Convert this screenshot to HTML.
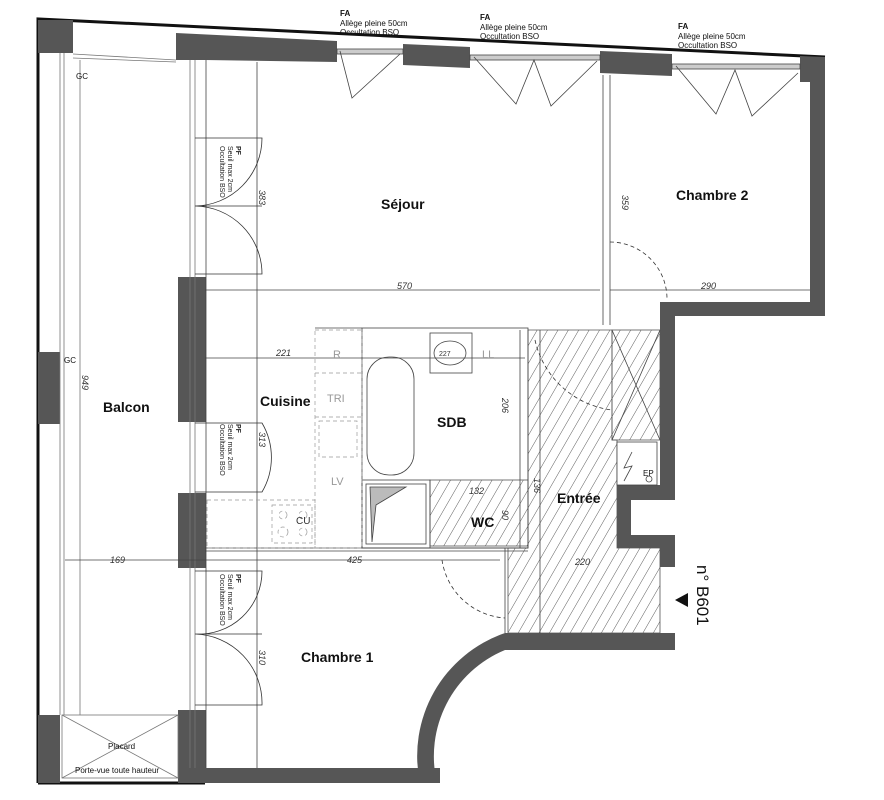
<!DOCTYPE html>
<html><head><meta charset="utf-8"><style>
html,body{margin:0;padding:0;background:#fff;width:884px;height:800px;overflow:hidden}
svg text{font-family:"Liberation Sans",sans-serif}
</style></head><body>
<svg width="884" height="800" viewBox="0 0 884 800" xmlns="http://www.w3.org/2000/svg">
<defs>
<pattern id="h" width="9" height="9" patternUnits="userSpaceOnUse" patternTransform="rotate(30)">
<line x1="0" y1="0" x2="0" y2="9" stroke="#333" stroke-width="0.8"/></pattern>
</defs>
<rect width="884" height="800" fill="#fff"/>
<g fill="url(#h)" stroke="#555" stroke-width="0.8">
<polygon points="528,330 612,330 612,440 617,440 617,548 660,548 660,633 508,633 508,548 528,548"/>
<rect x="430" y="480" width="98" height="66"/>
<rect x="612" y="330" width="48" height="110"/>
</g>
<polyline points="38,783 38,19 825,57" fill="none" stroke="#111" stroke-width="3"/>
<line x1="38" y1="783" x2="205" y2="783" stroke="#111" stroke-width="3"/>
<g fill="#565656">
<rect x="38" y="20" width="35" height="33"/>
<polygon points="176,33 337,41 337,62 205,60 176,60"/>
<polygon points="403,44 470,47 470,68 403,65"/>
<polygon points="600,51 672,54 672,76 600,73"/>
<polygon points="800,56 825,57 825,316 810,316 810,82 800,82"/>
<rect x="660" y="302" width="165" height="14"/>
<rect x="660" y="302" width="15" height="198"/>
<rect x="617" y="485" width="58" height="15"/>
<rect x="617" y="485" width="14" height="63"/>
<rect x="617" y="535" width="58" height="13"/>
<rect x="660" y="535" width="15" height="32"/>
<rect x="505" y="633" width="170" height="17"/>
<rect x="178" y="277" width="28" height="145"/>
<rect x="178" y="493" width="28" height="75"/>
<rect x="178" y="710" width="28" height="73"/>
<rect x="38" y="352" width="22" height="72"/>
<rect x="38" y="715" width="22" height="68"/>
<rect x="205" y="768" width="235" height="15"/>
<path d="M505,633 A130,130 0 0 0 420,783 L437,783 A115,115 0 0 1 505,650 Z"/>
</g>
<g stroke="#777" stroke-width="0.8" fill="none">
<line x1="60" y1="53" x2="60" y2="715"/><line x1="64" y1="53" x2="64" y2="715"/>
<line x1="80" y1="60" x2="80" y2="715"/>
<line x1="73" y1="54" x2="176" y2="60"/><line x1="73" y1="58" x2="176" y2="62"/>
<rect x="62" y="715" width="116" height="63"/>
<line x1="62" y1="715" x2="178" y2="778"/><line x1="178" y1="715" x2="62" y2="778"/>
<line x1="190" y1="60" x2="190" y2="768"/><line x1="195" y1="60" x2="195" y2="768"/>
</g>
<g stroke="#444" stroke-width="0.8" fill="none">
<rect x="337" y="49" width="66" height="5" fill="#ccc"/>
<path d="M340,51 L352,98 L400,54"/>
<rect x="470" y="55" width="130" height="5" fill="#ccc"/>
<path d="M474,57 L516,104 L534,60 L551,106 L597,61"/>
<rect x="672" y="64" width="128" height="5" fill="#ccc"/>
<path d="M676,66 L716,114 L735,70 L752,116 L798,73"/>
</g>
<g stroke="#444" stroke-width="0.8" fill="none">
<line x1="206" y1="60" x2="206" y2="768"/>
<line x1="257" y1="62" x2="257" y2="768"/>
<line x1="205" y1="290" x2="600" y2="290"/>
<line x1="610" y1="290" x2="810" y2="290"/>
<line x1="603" y1="75" x2="603" y2="325"/><line x1="610" y1="75" x2="610" y2="325"/>
<line x1="205" y1="358" x2="525" y2="358"/>
<line x1="65" y1="560" x2="500" y2="560"/>
<line x1="205" y1="548" x2="528" y2="548"/>
<line x1="205" y1="551" x2="528" y2="551"/>
<rect x="362" y="328" width="166" height="220"/>
<line x1="315" y1="328" x2="362" y2="328"/>
<rect x="367" y="357" width="47" height="118" rx="22"/>
<rect x="430" y="333" width="42" height="40"/>
<ellipse cx="450" cy="353" rx="16" ry="12"/>
<rect x="362" y="480" width="68" height="68"/><rect x="366" y="484" width="60" height="60"/>
<polygon points="370,487 406,487 376,505 372,542" fill="#bbb"/>
<line x1="520" y1="330" x2="520" y2="548"/>
<line x1="505" y1="548" x2="505" y2="633"/>
<line x1="540" y1="330" x2="540" y2="633"/>
<line x1="612" y1="330" x2="660" y2="440"/><line x1="660" y1="330" x2="612" y2="440"/>
<rect x="617" y="442" width="40" height="43" fill="#fff"/>
<path d="M632,452 L624,468 L632,466 L624,481"/>
<circle cx="649" cy="479" r="3"/>
</g>
<g stroke="#999" stroke-width="0.7" fill="none" stroke-dasharray="4,3">
<rect x="315" y="330" width="47" height="218"/>
<line x1="315" y1="373" x2="362" y2="373"/>
<line x1="315" y1="417" x2="362" y2="417"/>
<rect x="319" y="421" width="38" height="36"/>
<rect x="207" y="500" width="108" height="48"/>
<rect x="272" y="505" width="40" height="38"/>
<circle cx="283" cy="515" r="4"/><circle cx="303" cy="515" r="4"/>
<circle cx="283" cy="532" r="5"/><circle cx="303" cy="532" r="4"/>
</g>
<g stroke="#333" stroke-width="0.8" fill="none">
<path d="M195,206 L262,206 M195,138 L262,138 L262,138 A68,68 0 0 1 195,206 A68,68 0 0 1 262,274 L195,274"/>
<path d="M195,423 L262,423 A68,68 0 0 1 262,492 L195,492"/>
<path d="M195,634 L262,634 M195,571 L262,571 A63,63 0 0 1 195,634 A69,69 0 0 1 262,705 L195,705"/>
<g stroke-dasharray="4,3">
<path d="M610,242 A57,57 0 0 1 667,298"/>
<path d="M442,560 A68,68 0 0 0 505,618"/>
<path d="M535,340 A90,90 0 0 0 612,410"/>
</g>
</g>
<g fill="#111" font-weight="bold" font-size="14">
<text x="381" y="209">Séjour</text>
<text x="676" y="200">Chambre 2</text>
<text x="103" y="412">Balcon</text>
<text x="260" y="406">Cuisine</text>
<text x="437" y="427">SDB</text>
<text x="471" y="527">WC</text>
<text x="557" y="503">Entrée</text>
<text x="301" y="662">Chambre 1</text>
</g>
<g fill="#111" font-size="8">
<text x="340" y="16" font-weight="bold">FA</text><text x="340" y="26">Allège pleine  50cm</text><text x="340" y="35">Occultation    BSO</text>
<text x="480" y="20" font-weight="bold">FA</text><text x="480" y="30">Allège pleine  50cm</text><text x="480" y="39">Occultation    BSO</text>
<text x="678" y="29" font-weight="bold">FA</text><text x="678" y="39">Allège pleine  50cm</text><text x="678" y="48">Occultation    BSO</text>
<text x="76" y="79">GC</text><text x="64" y="363">GC</text>
<text x="108" y="749">Placard</text><text x="75" y="773">Porte-vue toute hauteur</text>
<text x="643" y="476">EP</text>
</g>
<g fill="#333" font-size="9" font-style="italic">
<text x="397" y="289">570</text><text x="701" y="289">290</text>
<text x="276" y="356">221</text><text x="110" y="563">169</text><text x="347" y="563">425</text>
<text x="469" y="494">132</text><text x="575" y="565">220</text>
<text transform="translate(259,190) rotate(90)">383</text>
<text transform="translate(259,432) rotate(90)">313</text>
<text transform="translate(259,650) rotate(90)">310</text>
<text transform="translate(622,195) rotate(90)">359</text>
<text transform="translate(502,398) rotate(90)">206</text>
<text transform="translate(502,510) rotate(90)">90</text>
<text transform="translate(534,478) rotate(90)">136</text>
<text transform="translate(82,375) rotate(90)">949</text>
</g>
<g fill="#999" font-size="11"><text x="333" y="358">R</text><text x="482" y="358">LL</text><text x="327" y="402">TRI</text><text x="331" y="485">LV</text><text x="439" y="356" font-size="7" fill="#333">227</text></g>
<text x="296" y="524" font-size="10" fill="#333">CU</text>
<g font-size="7" fill="#222">
<text transform="translate(236,146) rotate(90)"><tspan font-weight="bold">PF</tspan><tspan x="0" dy="8">Seuil max   2cm</tspan><tspan x="0" dy="8">Occultation  BSO</tspan></text>
<text transform="translate(236,424) rotate(90)"><tspan font-weight="bold">PF</tspan><tspan x="0" dy="8">Seuil max   2cm</tspan><tspan x="0" dy="8">Occultation  BSO</tspan></text>
<text transform="translate(236,574) rotate(90)"><tspan font-weight="bold">PF</tspan><tspan x="0" dy="8">Seuil max   2cm</tspan><tspan x="0" dy="8">Occultation  BSO</tspan></text>
</g>
<text transform="translate(697,565) rotate(90)" font-size="17" fill="#111">n° B601</text>
<polygon points="675,600 688,593 688,607" fill="#111"/>
</svg>
</body></html>
